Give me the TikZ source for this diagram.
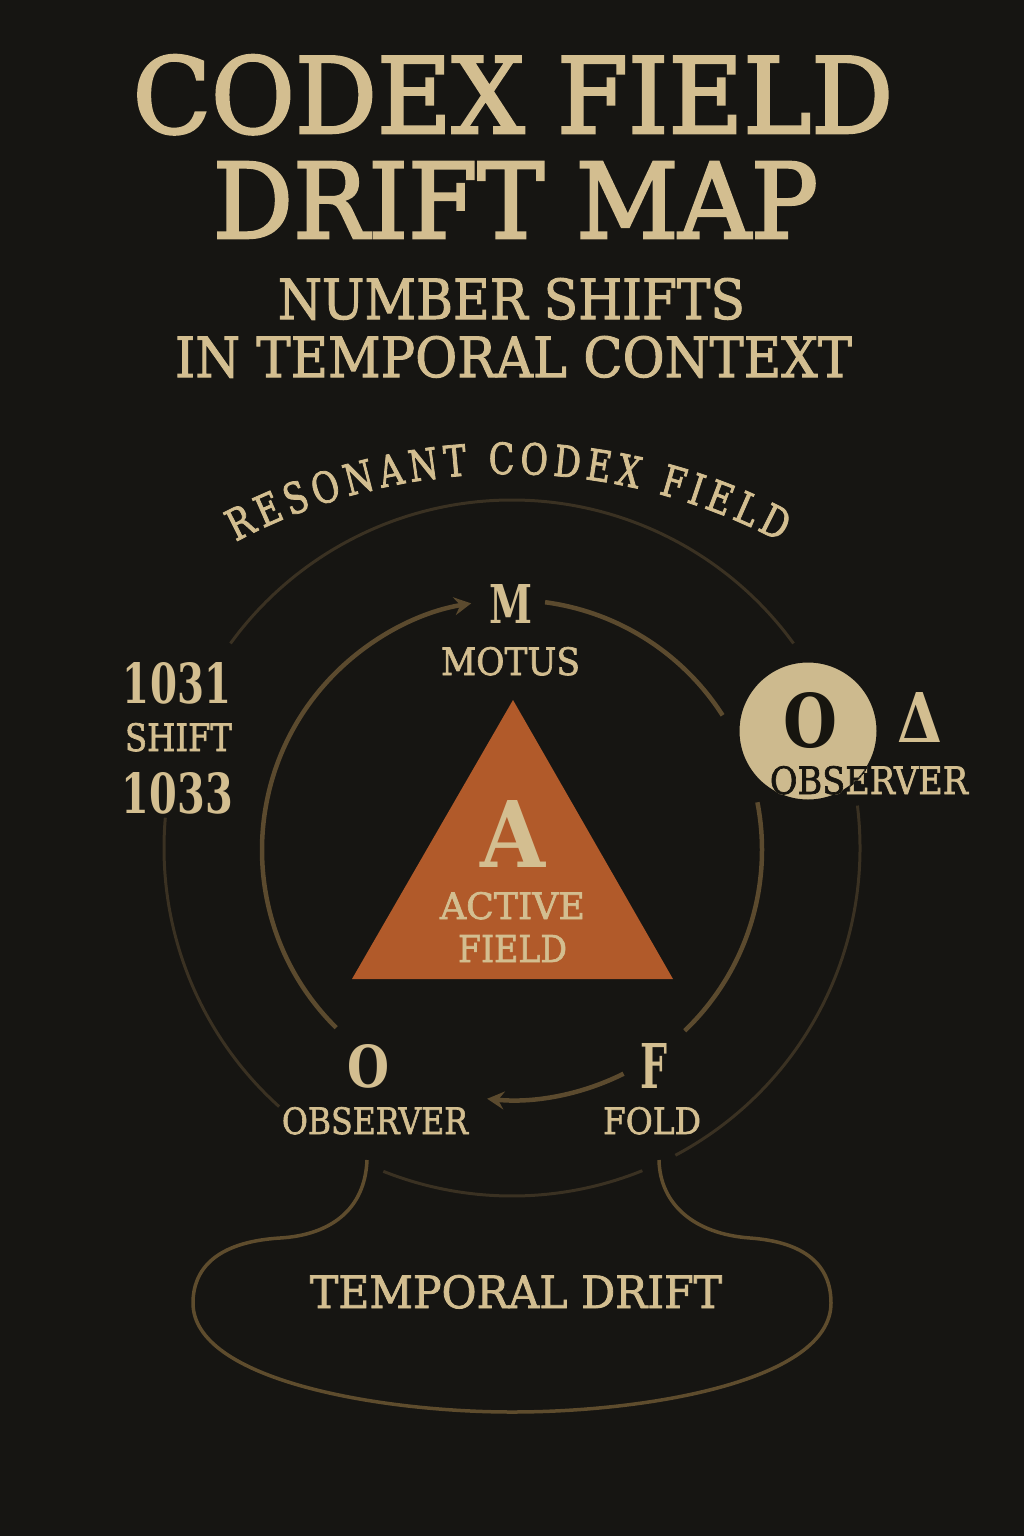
\documentclass[tikz,border=0pt]{standalone}
\usepackage{fontspec}
\setmainfont{DejaVu Serif}
\newfontfamily\titlefont[FakeBold=2.5]{DejaVu Serif}
\newfontfamily\labelfont[FakeBold=1.8]{DejaVu Serif}
\newfontfamily\arcfont[FakeStretch=0.78,FakeBold=1.8]{DejaVu Serif}
\usepackage{graphicx}
\usetikzlibrary{arrows.meta,decorations.text}
\definecolor{bg}{HTML}{161512}
\definecolor{beige}{HTML}{D3BE90}
\definecolor{disc}{HTML}{CDBA8E}
\definecolor{inkdark}{HTML}{17150F}
\definecolor{innerline}{HTML}{5B4A2E}
\definecolor{outerline}{HTML}{3A3122}
\definecolor{blobline}{HTML}{5E4C2D}
\definecolor{rust}{HTML}{B15A2A}
\newcommand\fitbox[3]{\resizebox{#1pt}{#2pt}{#3}}
\begin{document}
\begin{tikzpicture}[x=1pt,y=1pt,
  lbl/.style={inner sep=0pt, outer sep=0pt, anchor=base, text=beige, font=\labelfont},
  boldlbl/.style={lbl, font=\bfseries},
  titlelbl/.style={lbl, font=\titlefont},
  innerarc/.style={draw=innerline, line width=4.5pt},
  outerarc/.style={draw=outerline, line width=3pt},
  tipped/.style={-{Stealth[length=17pt,width=18pt,inset=6pt]}},
  blob/.style={draw=blobline, line width=3.5pt}
]
\fill[bg] (0,0) rectangle (1024,-1536);
\useasboundingbox (0,0) rectangle (1024,-1536);

% ---------- title ----------
\node[titlelbl] (t1) at (513,-133) {\fitbox{760}{78}{CODEX FIELD}};
\node[titlelbl] (t2) at (515.5,-238) {\fitbox{605}{76}{DRIFT MAP}};
\node[lbl] (s1) at (511.5,-319) {\fitbox{467}{41}{NUMBER SHIFTS}};
\node[lbl] (s2) at (513.5,-377) {\fitbox{677}{41}{IN TEMPORAL CONTEXT}};

% ---------- outer circle (centre 512,-848, r 348) ----------
\coordinate (oc) at (512,-848);
\draw[outerarc] (oc) ++(-62:348) arc[start angle=-62, end angle=7, radius=348];
\draw[outerarc] (oc) ++(36:348) arc[start angle=36, end angle=144, radius=348];
\draw[outerarc] (oc) ++(175:348) arc[start angle=175, end angle=228, radius=348];
\draw[outerarc] (oc) ++(-111.7:348) arc[start angle=-111.7, end angle=-68, radius=348];

% ---------- curved label ----------
\coordinate (arcc) at (508,-1054);
\path[decorate, decoration={text along path,
   text={|\color{beige}\arcfont\fontsize{43}{43}\selectfont|RESONANT CODEX FIELD},
   text align={fit to path}}]
   (arcc) ++(118:580) arc[start angle=118, end angle=62, radius=580];

% ---------- inner circle arcs (centre 512,-850, r 250) ----------
\coordinate (ic) at (512,-850);
\path (ic) ++(225.3:250) coordinate (pOL);
\path (ic) ++(82.4:250) coordinate (pM);
\path (ic) ++(11:250) coordinate (pR);
\path (ic) ++(-63.5:250) coordinate (pF);
\draw[innerarc, tipped] (pOL) arc[start angle=225.3, end angle=99.4, radius=250];
\draw[innerarc] (pM) arc[start angle=82.4, end angle=32.6, radius=250];
\draw[innerarc] (pR) arc[start angle=11, end angle=-46.3, radius=250];
\draw[innerarc, tipped] (pF) arc[start angle=-63.5, end angle=-95.7, radius=250];

% ---------- triangle ----------
\fill[rust] (513,-700) -- (673,-979) -- (352,-979) -- cycle;
\node[boldlbl] (A) at (512.5,-867) {\fitbox{65}{67}{A}};
\node[lbl] (act) at (512.5,-919) {\fitbox{145}{27}{ACTIVE}};
\node[lbl] (fld) at (512.5,-962) {\fitbox{109}{27}{FIELD}};

% ---------- M ----------
\node[boldlbl] (M) at (510.5,-623) {\fitbox{43}{39}{M}};
\node[lbl] (motus) at (510.5,-675) {\fitbox{139}{28}{MOTUS}};

% ---------- left numbers ----------
\node[boldlbl] (n1) at (177,-703) {\fitbox{108}{41}{1031}};
\node[lbl] (n2) at (178.5,-751) {\fitbox{107}{28}{SHIFT}};
\node[boldlbl] (n3) at (177.5,-813) {\fitbox{111}{41}{1033}};

% ---------- observer disc (right) ----------
\coordinate (dc) at (808,-731);
\filldraw[fill=disc, draw=bg, line width=3pt] (dc) circle (70);
\node[boldlbl, text=inkdark] (Od) at (810,-747) {\fitbox{54}{55}{O}};
\node[boldlbl] (delta) at (919.5,-742) {\fitbox{45}{50}{Δ}};
\node[lbl] (obsR) at (869,-794) {\fitbox{198}{28}{OBSERVER}};
\begin{scope}
  \clip (dc) circle (70);
  \node[lbl, text=inkdark] (obsRd) at (869,-794) {\fitbox{198}{28}{OBSERVER}};
\end{scope}

% ---------- bottom labels ----------
\node[boldlbl] (Ob) at (368,-1087) {\fitbox{42}{43}{O}};
\node[lbl] (obsB) at (375,-1134) {\fitbox{186}{27}{OBSERVER}};
\node[boldlbl] (F) at (654,-1088) {\fitbox{27}{45}{F}};
\node[lbl] (fold) at (652,-1134) {\fitbox{98}{27}{FOLD}};

% ---------- temporal drift blob ----------
\coordinate (nl) at (367,-1160);
\coordinate (nr) at (659,-1160);
\draw[blob] (nl) .. controls (365,-1210) and (330,-1235) .. (280,-1238)
  .. controls (215,-1242) and (193,-1270) .. (193,-1303)
  .. controls (193,-1380) and (380,-1412) .. (512,-1412)
  .. controls (650,-1412) and (831,-1380) .. (831,-1303)
  .. controls (831,-1265) and (805,-1242) .. (750,-1238)
  .. controls (695,-1234) and (660,-1205) .. (nr);
\node[lbl] (td) at (516,-1308) {\fitbox{412}{33}{TEMPORAL DRIFT}};
\end{tikzpicture}
\end{document}
